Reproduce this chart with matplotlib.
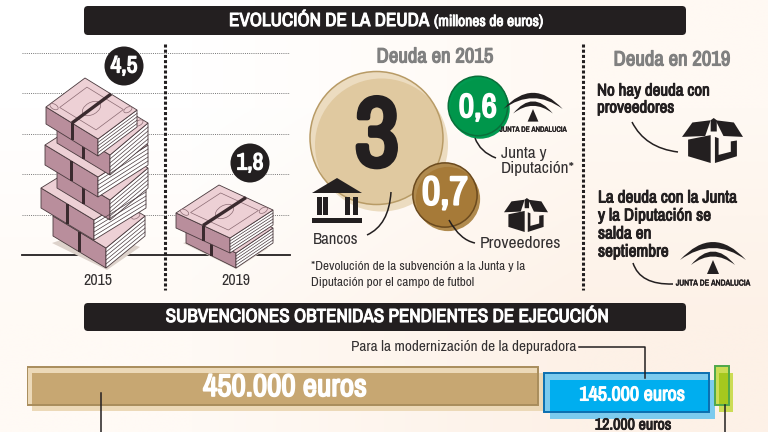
import matplotlib
matplotlib.use('Agg')
import matplotlib.pyplot as plt
import matplotlib.patheffects as pe
import numpy as np
from matplotlib.patches import Circle, FancyBboxPatch, PathPatch, Polygon, Ellipse, Rectangle
from matplotlib.path import Path

plt.rcParams['font.family'] = ['Archivo Narrow', 'Roboto Condensed', 'Fira Sans Condensed', 'Barlow Condensed',
                               'PT Sans Narrow', 'Liberation Sans', 'DejaVu Sans']

# data
years = ['2015', '2019']
debt_total = [4.5, 1.8]
debt_labels = ['4,5', '1,8']
debt_ticks = [1, 2, 3, 4, 5]
debt_2015_names = ['Bancos', 'Proveedores', 'Junta y\nDiputación*']
debt_2015_values = [3, 0.7, 0.6]
debt_2015_labels = ['3', '0,7', '0,6']
grant_values = [450000, 145000, 12000]
grant_labels = ['450.000 euros', '145.000 euros', '12.000 euros']

DARK = '#231f20'
GREY = '#808080'
TEXT = '#333031'

fig = plt.figure(figsize=(7.68, 4.32), dpi=100)


def px_axes(x0, y0, x1, y1, zorder):
    a = fig.add_axes([x0 / 768, 1 - y1 / 432, (x1 - x0) / 768, (y1 - y0) / 432], zorder=zorder)
    a.patch.set_visible(False)
    return a


# soft paper background
ax_bg = px_axes(0, 0, 768, 432, 0)
paper = np.array([[[255, 255, 255], [255, 249, 243]], [[255, 250, 245], [253, 241, 231]]]) / 255
ax_bg.imshow(paper, extent=[0, 768, 432, 0], interpolation='bilinear', aspect='auto')
ax_bg.axis('off')

# debt scale, 2015 and 2019
ax_debt = px_axes(22, 44, 290, 255, 1)
ax_debt.set_xlim(22, 290)
ax_debt.set_ylim(0, 211 / 40.4)
ax_debt.set_yticks(debt_ticks)
ax_debt.set_xticks([98, 236])
ax_debt.set_xticklabels(years, fontsize=11.5, color=TEXT)
ax_debt.tick_params(length=0, labelleft=False, pad=13)
ax_debt.grid(axis='y', color='#777777', lw=0.7, ls=(0, (1, 1.2)))
for s in ['top', 'left', 'right']:
    ax_debt.spines[s].set_visible(False)
ax_debt.spines['bottom'].set_linewidth(1.3)
ax_debt.spines['bottom'].set_color(DARK)

# grants, bar widths in euros
ax_sub = px_axes(27, 360, 768, 425, 1)
scale = 511 / 450000
ax_sub.set_xlim(0, 741 / scale)
ax_sub.set_ylim(425, 360)
ax_sub.axis('off')
bar_tops = [367, 373, 366]
bar_heights = [38, 39, 39]
bar_offsets = [(5, 6), (6, 7), (4, 7)]
bar_main = ['#c7a772', '#00aeef', '#a6c81e']
bar_light = ['#ecd9b8', '#7ccbee', '#ccdc55']
bar_edge = ['#a98d5c', '#0b6fb0', '#4fa84a']
left = 0
for value, top, hgt, off, main, light, edge in zip(grant_values, bar_tops, bar_heights, bar_offsets,
                                                   bar_main, bar_light, bar_edge):
    dx = off[0] / scale
    ax_sub.barh(top, value, hgt, left=left, align='edge', color=light, lw=0)
    ax_sub.barh(top + off[1], value, hgt, left=left + dx, align='edge', color=light, lw=0)
    ax_sub.barh(top + off[1], value - dx, hgt - off[1], left=left + dx, align='edge', color=main, lw=0)
    ax_sub.barh(top, value, hgt, left=left, align='edge', color='none', edgecolor=edge, lw=1.4)
    left += value + 6.2 / scale

# everything else is drawn in pixel coordinates
ax = px_axes(0, 0, 768, 432, 2)
ax.set_xlim(0, 768)
ax.set_ylim(432, 0)
ax.axis('off')


def label(x, y, s, size=11, color=TEXT, bold=False, ha='center', **kw):
    t = ax.text(x, y, s, fontsize=size, color=color, ha=ha, va='center', **kw)
    # the narrow family has no heavy cut here, so thicken it
    if bold:
        t.set_path_effects([pe.withStroke(linewidth=size * 0.055, foreground=color)])
    return t


def header(y0, y1):
    ax.add_patch(FancyBboxPatch((88, y0 + 4), 594, y1 - y0 - 8, boxstyle='round,pad=4,rounding_size=4',
                                fc=DARK, ec='none'))


def curve(p0, ctrl, p1, lw=1.1):
    path = Path([p0, ctrl, p1], [Path.MOVETO, Path.CURVE3, Path.CURVE3])
    ax.add_patch(PathPatch(path, fc='none', ec=DARK, lw=lw))


def bundle(fx, fy, h, L, R, top_detail=True):
    f = np.array([fx, fy], float)
    L = np.array(L, float)
    R = np.array(R, float)
    dn = np.array([0, h])
    line = '#4a3a3e'
    ax.add_patch(Polygon([f, f + L, f + L + dn, f + dn], fc='#b98e9c', ec=line, lw=0.6))
    ax.add_patch(Polygon([f, f + R, f + R + dn, f + dn], fc='white', ec=line, lw=0.6))
    for t in np.linspace(0.2, 0.8, 4):
        ax.plot([f[0], f[0] + R[0]], [f[1] + t * h, f[1] + R[1] + t * h], color=line, lw=0.5)
    ax.add_patch(Polygon([f, f + L, f + L + R, f + R], fc='#edd0d5', ec=line, lw=0.6))
    c = f + L / 2 + R / 2
    if top_detail:
        inner = [f + 0.15 * L + 0.15 * R, f + 0.85 * L + 0.15 * R, f + 0.85 * L + 0.85 * R, f + 0.15 * L + 0.85 * R]
        ax.add_patch(Polygon(inner, fc='none', ec='#8a6a72', lw=0.5))
        ax.add_patch(Ellipse(c, 20, 12, angle=-30, fc='none', ec='#8a6a72', lw=0.5))
        ax.add_patch(Ellipse(f + 0.92 * L + 0.1 * R, 9, 5, angle=30, fc='#edd0d5', ec='#8a6a72', lw=0.5))
    ax.add_patch(Ellipse(f + 0.1 * L + 0.9 * R, 9, 5, angle=-30, fc='#edd0d5', ec='#8a6a72', lw=0.5))
    # paper band
    a = f + 0.5 * L
    ax.add_patch(Polygon([a - (1.5, 0), a + (1.5, 0), a + dn + (1.5, 0), a + dn - (1.5, 0)], fc='#3a2a2e', ec='none'))
    if top_detail:
        ax.plot([a[0], a[0] + R[0]], [a[1], a[1] + R[1]], color='#3a2a2e', lw=2.4, solid_capstyle='butt')


def crescent(cx, base, half, top_ctrl, low_ctrl, color=DARK):
    verts = [(cx - half, base), (cx, top_ctrl), (cx + half, base), (cx, low_ctrl), (cx - half, base)]
    codes = [Path.MOVETO, Path.CURVE3, Path.CURVE3, Path.CURVE3, Path.CURVE3]
    ax.add_patch(PathPatch(Path(verts, codes), fc=color, ec='none'))


def logo(cx, top, k=1.0):
    crescent(cx, top + 20 * k, 33 * k, top - 16 * k, top - 4 * k)
    crescent(cx, top + 25 * k, 22 * k, top - 2 * k, top + 8 * k)
    ax.add_patch(Polygon([(cx, top + 20 * k), (cx - 6 * k, top + 34 * k), (cx + 6 * k, top + 34 * k)], fc=DARK, ec='none'))
    label(cx, top + 43 * k, 'JUNTA DE ANDALUCIA', size=6 * k, color=DARK, bold=True)


def box_icon(x, y, w, h):
    def P(pts):
        return [(x + a * w, y + b * h) for a, b in pts]
    for pts in [[(0, .42), (.17, .1), (.47, .05), (.38, .4)],
                [(.55, .05), (.85, .1), (1, .42), (.68, .4)],
                [(.47, .05), (.52, 0), (.57, .05), (.57, .3), (.47, .3)],
                [(.1, .48), (.47, .38), (.47, 1), (.1, .85)],
                [(.54, .42), (.54, 1), (.9, .85), (.9, .5), (.8, .52), (.8, .75), (.6, .82), (.6, .45)]]:
        ax.add_patch(Polygon(P(pts), fc=DARK, ec='none'))


def bank_icon(x, y):
    ax.add_patch(Polygon([(x + 25, y), (x, y + 15), (x + 50, y + 15)], fc=DARK, ec='none'))
    for c in [5, 11, 33, 41]:
        ax.add_patch(Rectangle((x + c, y + 19), 4.5, 18, fc=DARK, ec='none'))
    ax.add_patch(Rectangle((x, y + 40), 50, 5, fc=DARK, ec='none'))


def bubble(value, cx, cy, off, main, light, edge):
    r = 66.5 * np.sqrt(value / debt_2015_values[0])
    shifted = (cx + off[0], cy + off[1])
    ax.add_patch(Circle(shifted, r, fc=light, ec='none'))
    outline = Circle((cx, cy), r, fc=light, ec='none')
    ax.add_patch(outline)
    over = Circle(shifted, r, fc=main, ec='none')
    ax.add_patch(over)
    over.set_clip_path(outline)
    ax.add_patch(Circle((cx, cy), r, fc='none', ec=edge, lw=1.1))


# headers
header(6, 35)
label(229, 21, 'EVOLUCIÓN DE LA DEUDA', size=13.7, color='white', bold=True, ha='left')
label(434, 22, '(millones de euros)', size=11.2, color='white', bold=True, ha='left')
header(303, 331)
label(387, 317, 'SUBVENCIONES OBTENIDAS PENDIENTES DE EJECUCIÓN', size=13.7, color='white', bold=True)

# dividers
for x in [165, 583]:
    ax.plot([x, x], [44, 290], color=DARK, lw=2.2, ls=(0, (1, 0.7)))

# banknote stacks, bottom bundle first
ax.add_patch(Polygon([(52, 243), (107, 270), (140, 247), (90, 230)], fc='#ddd2cb', ec='none'))
ax.add_patch(Polygon([(183, 243), (236, 269), (268, 248), (220, 235)], fc='#ddd2cb', ec='none'))
for fx, fy, rr in [(106, 248, 39), (94, 220, 52), (110, 200, 38), (98, 177, 50), (110, 155, 38)]:
    bundle(fx, fy, 20, (-53, -32), (rr, -32), top_detail=False)
bundle(98, 139, 17, (-52, -32), (39, -29))
bundle(236, 253, 15, (-50, -25), (37, -25), top_detail=False)
bundle(230, 238, 15, (-54, -25), (43, -28))

for (x, y), s in zip([(124, 66), (250, 163)], debt_labels):
    ax.add_patch(Circle((x, y), 19.5, fc=DARK, ec='none'))
    label(x, y, s, size=17, color='white', bold=True)

# 2015 debt
label(435, 57, 'Deuda en 2015', size=15, color=GREY, bold=True)
bubble(debt_2015_values[0], 376.5, 138, (5, 7), '#e0c9a0', '#ecdcc0', '#b89b66')
bubble(debt_2015_values[2], 478, 106, (2, 3), '#00964b', '#009a50', '#0a6f3a')
logo(533, 91, 0.9)
bubble(debt_2015_values[1], 445, 195, (3, 4), '#a67a38', '#b08a4e', '#6b4a1e')
label(377, 139, debt_2015_labels[0], size=70, color=DARK, bold=True)
label(445, 193, debt_2015_labels[1], size=29, color='white', bold=True)
label(478, 108, debt_2015_labels[2], size=24, color='white', bold=True)
bank_icon(312, 178)
box_icon(504, 198, 44, 34)
label(336, 239, debt_2015_names[0], size=12)
label(520, 244, debt_2015_names[1], size=12.5)
label(501, 161, debt_2015_names[2], size=12.4, ha='left', linespacing=1.05)
curve((391, 192), (389, 225), (367, 235))
curve((449, 220), (460, 240), (475, 243))
curve((475, 138), (480, 152), (496, 158))
label(311, 267, '*Devolución de la subvención a la Junta y la', size=9.6, ha='left')
label(311, 283, 'Diputación por el campo de futbol', size=9.6, ha='left')

# 2019 debt
label(672, 60, 'Deuda en 2019', size=15, color=GREY, bold=True)
label(597, 91, 'No hay deuda con', size=12.2, color=DARK, bold=True, ha='left')
label(597, 108, 'proveedores', size=12.2, color=DARK, bold=True, ha='left')
box_icon(682, 118, 61, 45)
curve((632, 122), (645, 148), (678, 152))
for y, s in zip([198, 216, 234, 252], ['La deuda con la Junta', 'y la Diputación se', 'salda en', 'septiembre']):
    label(598, y, s, size=12.4, color=DARK, bold=True, ha='left')
logo(713, 240, 1.0)
curve((633, 263), (640, 285), (673, 284))

# grant labels and leader lines
label(285, 387, grant_labels[0], size=22.5, color='white', bold=True)
label(632, 395, grant_labels[1], size=14.5, color='white', bold=True)
label(633, 425, grant_labels[2], size=11.5, color=DARK, bold=True)
label(351, 347, 'Para la modernización de la depuradora', size=11, ha='left')
ax.plot([579, 645, 645], [347, 347, 378], color=DARK, lw=1.1)
ax.plot([101, 101], [393, 432], color=DARK, lw=1.1)
ax.plot([725, 725], [405, 432], color=DARK, lw=1.1)

fig.savefig('out.png', dpi=100)
